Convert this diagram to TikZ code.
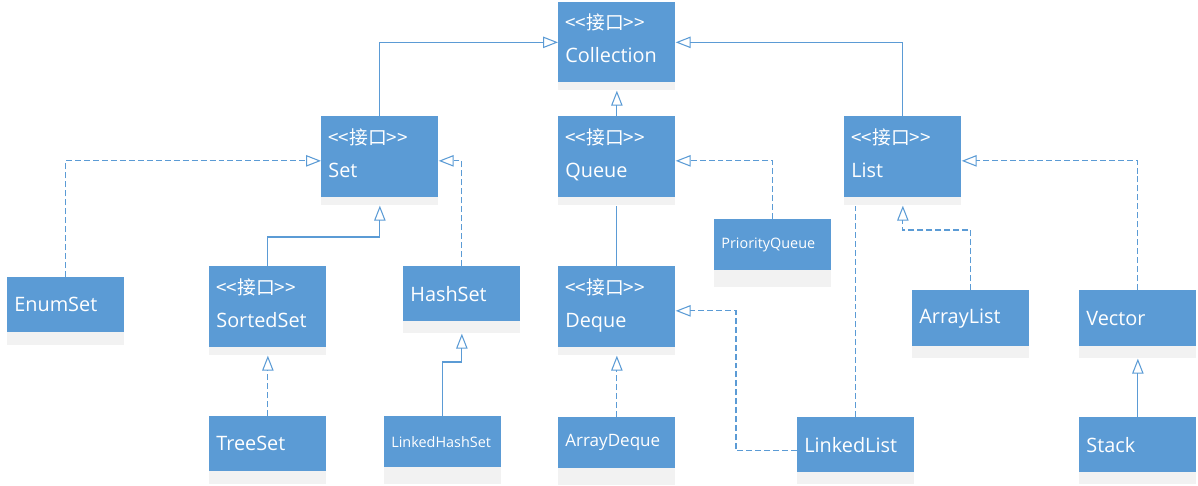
\documentclass[tikz,border=0pt]{standalone}
\usepackage{fontspec}
\setmainfont{Open Sans}
\newfontfamily\cjk{Noto Sans CJK SC}
\usetikzlibrary{arrows.meta}
\usetikzlibrary{calc}
\usetikzlibrary{shadows}
\definecolor{boxblue}{RGB}{91,155,213}
\definecolor{stripgray}{RGB}{242,242,242}
\newdimen\px \px=0.02cm
\newcommand\ifacetag{{\cjk\fontsize{10.7}{12}\selectfont <<接口>>}}
\tikzset{
  cls/.style={fill=boxblue, text=white, anchor=north west, inner xsep=7\px, inner ysep=0pt,
    text width=103\px, align=left, font=\fontsize{11.3}{18.8}\selectfont,
    general shadow={fill=stripgray, shadow yshift=-#1\px}},
  iface/.style={cls=8, minimum height=81\px, execute at end node={\rule[-8\px]{0pt}{0pt}}},
  plainlink/.style={draw=boxblue, line width=0.6pt},
  dashlink/.style={plainlink, dash pattern=on 3.4pt off 1.7pt},
  genlink/.style={plainlink, -{Triangle[open, length=8.5pt, width=6.5pt]}},
  reallink/.style={dashlink, -{Triangle[open, length=8.5pt, width=6.5pt]}}
}

\begin{document}
\begin{tikzpicture}[x=0.02cm, y=-0.02cm]
    \useasboundingbox (0,0) rectangle (1198,486);

    % interfaces
    \node[iface, minimum height=80\px] (coll) at (558,2) {\ifacetag\\Collection};
    \node[iface] (set) at (321,116) {\ifacetag\\Set};
    \node[iface] (queue) at (558,116) {\ifacetag\\Queue};
    \node[iface] (list) at (844,116) {\ifacetag\\List};
    \node[iface] (sortedset) at (209,266) {\ifacetag\\SortedSet};
    \node[iface] (deque) at (558,266) {\ifacetag\\Deque};

    % classes
    \node[cls=13, minimum height=55\px] (enumset) at (7,277) {EnumSet};
    \node[cls=17, minimum height=51\px, font=\fontsize{8.2}{10}\selectfont] (pqueue) at (714,219) {PriorityQueue};
    \node[cls=12, minimum height=55\px] (hashset) at (403,266) {HashSet};
    \node[cls=12, minimum height=56\px] (arraylist) at (912,290) {ArrayList};
    \node[cls=12, minimum height=56\px] (vector) at (1079,290) {Vector};
    \node[cls=13, minimum height=55\px] (treeset) at (209,416) {TreeSet};
    \node[cls=17, minimum height=51\px, font=\fontsize{8.2}{10}\selectfont] (lhset) at (384,416) {LinkedHashSet};
    \node[cls=17, minimum height=51\px, font=\fontsize{9.7}{12}\selectfont] (adeque) at (558,417) {ArrayDeque};
    \node[cls=12, minimum height=55\px] (llist) at (797,417) {LinkedList};
    \node[cls=12, minimum height=55\px] (stack) at (1079,417) {Stack};

    % extends
    \draw[genlink] (set.north) |- (coll.west);
    \draw[genlink] (list.north) |- (coll.east);
    \draw[genlink] (queue.north) -- ([yshift=-8\px]coll.south);
    \draw[genlink] (sortedset.north) -- ++(0,-29) -| ([yshift=-8\px]set.south);
    \draw[plainlink] (deque.north) -- ([yshift=-8\px]queue.south);
    \draw[genlink] (lhset.north) -- ++(0,-54) -| ([yshift=-12\px]hashset.south);
    \draw[genlink] (stack.north) -- ([yshift=-12\px]vector.south);

    % implements
    \draw[reallink] (enumset.north) |- ([yshift=-4\px]set.west);
    \draw[reallink] (hashset.north) |- ([yshift=-4\px]set.east);
    \draw[reallink] (pqueue.north) |- ([yshift=-4\px]queue.east);
    \draw[reallink] (treeset.north) -- ([yshift=-8\px]sortedset.south);
    \draw[reallink] (adeque.north) -- ([yshift=-8\px]deque.south);
    \draw[reallink] ([yshift=-6\px]llist.west) -- ++(-61,0) |- ([yshift=-4\px]deque.east);
    \draw[dashlink] (llist.north) -- ($(llist.north |- list.south)+(0,8)$);
    \draw[reallink] (arraylist.north) -- ++(0,-60) -| ([yshift=-8\px]list.south);
    \draw[reallink] (vector.north) |- ([yshift=-4\px]list.east);
\end{tikzpicture}
\end{document}
